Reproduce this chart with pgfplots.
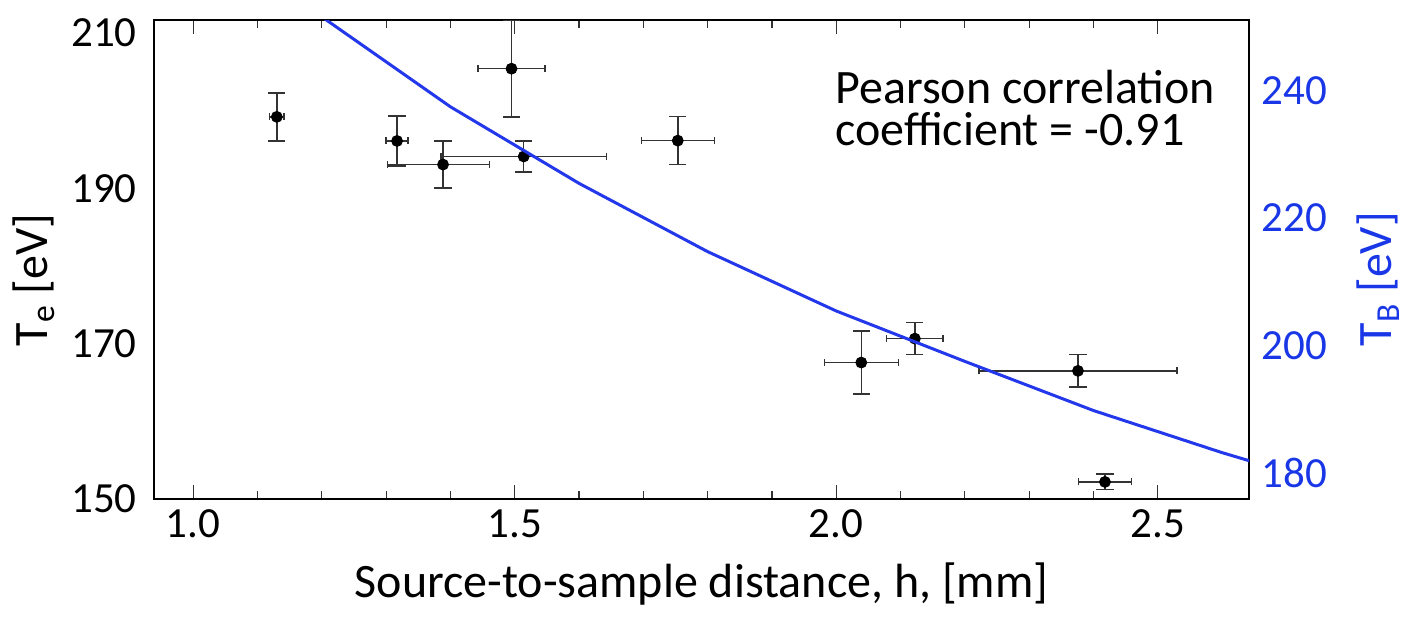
\documentclass[border=0pt]{standalone}
\usepackage{fontspec}
\setmainfont{Carlito}
\usepackage{pgfplots}
\pgfplotsset{compat=1.18}
\usepackage{pgfplotstable}
\definecolor{lineblue}{RGB}{35,55,235}
\definecolor{txtblue}{RGB}{25,55,230}
\pgfplotstableread{
x y exm exp ey
1.130 199.2 0.0114 0.0114 3.1
1.317 196.1 0.017 0.017 3.2
1.3885 193.06 0.086 0.072 3.05
1.514 194.1 0.129 0.129 2.0
1.495 205.4 0.052 0.052 6.2
1.7536 196.14 0.0568 0.0568 3.1
2.039 167.57 0.0576 0.0576 4.05
2.1223 170.65 0.044 0.044 2.05
2.376 166.5 0.154 0.154 2.1
2.418 152.2 0.041 0.041 1.0
}\datatable
\pgfplotstableread{
x t
1.2 251.5
1.4 237.4
1.6 225.4
1.8 214.7
2.0 205.4
2.2 197.5
2.4 189.8
2.6 183.2
2.65 181.7
}\linetable
\begin{document}
\begin{tikzpicture}
\pgfplotsset{
  common/.style={
    width=547.5pt, height=239.5pt, scale only axis,
    xmin=0.939, xmax=2.642,
    at={(0,0)}, anchor=south west,
    /pgf/number format/assume math mode=true,
    tick label style={font=\fontsize{21.5}{24}\selectfont},
    axis line style={line width=1.3pt},
  },
}
\begin{axis}[common,
  ymin=150, ymax=211.67,
  ytick={150,170,190,210},
  xtick={1.0,1.5,2.0,2.5},
  xticklabels={1.0,1.5,2.0,2.5},
  minor x tick num=4,
  tick align=inside,
  xtick pos=both, ytick pos=left,
  major tick length=7pt, minor tick length=4pt,
  ytick style={draw=none},
  xtick style={line width=0.6pt, black!80},
  yticklabel style={anchor=east, inner sep=0pt, xshift=-8.5pt},
  xticklabel style={anchor=base, inner sep=0pt, yshift=-19pt},
  xlabel={Source-to-sample distance, h, [mm]},
  xlabel style={at={(axis description cs:0.5,-0.2046)}, anchor=base, inner sep=0pt, font=\fontsize{24}{28}\selectfont},
  ylabel={T\textsubscript{e} [eV]},
  ylabel style={at={(axis description cs:-0.110,0.457)}, anchor=center, inner sep=0pt, font=\fontsize{24}{28}\selectfont},
]
\addplot[only marks, mark=none,
  error bars/.cd, y dir=both, y explicit, error mark=|,
  error bar style={line width=0.75pt, black!80, solid},
  error mark options={line width=0.75pt, black!80, mark size=4.3pt}]
  table[x=x, y=y, y error=ey]{\datatable};
\addplot[only marks, mark=none,
  error bars/.cd, x dir=both, x explicit, error mark=|,
  error bar style={line width=0.75pt, black!80, solid},
  error mark options={line width=0.75pt, black!80, mark size=1.75pt}]
  table[x=x, y=y, x error plus=exp, x error minus=exm]{\datatable};
\addplot[only marks, mark=*, mark size=2.75pt, black]
  table[x=x, y=y]{\datatable};
\node[anchor=base west, inner sep=0pt, font=\fontsize{24}{28}\selectfont] at (axis description cs:0.622,0.8267) {Pearson correlation};
\node[anchor=base west, inner sep=0pt, font=\fontsize{24}{28}\selectfont] at (axis description cs:0.622,0.739) {coefficient = -0.91};
\end{axis}
\begin{axis}[common,
  ymin=175.93, ymax=251,
  axis y line*=right, axis x line=none,
  ytick={180,200,220,240},
  ytick style={draw=none},
  yticklabel style={txtblue, anchor=west, inner sep=0pt, xshift=6pt},
  ylabel={T\textsubscript{B} [eV]},
  ylabel style={at={(axis description cs:1.1178,0.459)}, anchor=center, inner sep=0pt, txtblue, font=\fontsize{24}{28}\selectfont},
]
\addplot[lineblue, line width=1.5pt, mark=none] table[x=x, y=t]{\linetable};
\end{axis}
\pgfresetboundingbox
\path[use as bounding box] (-77pt,-59pt) rectangle (626.5pt,249.5pt);
\end{tikzpicture}
\end{document}
